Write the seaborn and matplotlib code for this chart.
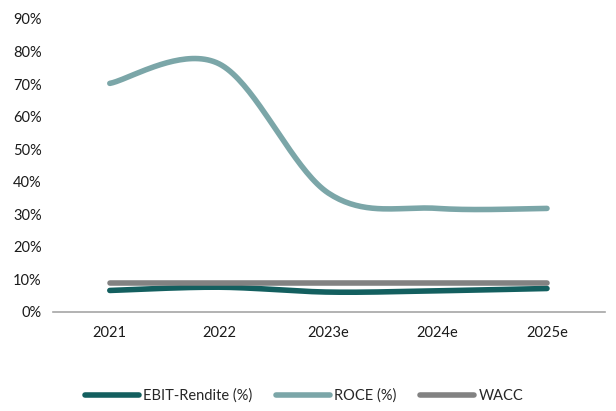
import numpy as np
import pandas as pd
import matplotlib
matplotlib.use("Agg")
import matplotlib.pyplot as plt
import seaborn as sns
from matplotlib.ticker import PercentFormatter

years = ["2021", "2022", "2023e", "2024e", "2025e"]
ebit_margin = [0.066, 0.076, 0.061, 0.065, 0.072]
roce = [0.702, 0.762, 0.365, 0.318, 0.318]
wacc = [0.088, 0.088, 0.088, 0.088, 0.088]

series_names = ["EBIT-Rendite (%)", "ROCE (%)", "WACC"]
series_values = [ebit_margin, roce, wacc]
colors = ["#135f5f", "#7ba6a8", "#828282"]


def smooth(xs, ys, steps=40):
    """Cubic Bezier smoothing through every point (Catmull-Rom style)."""
    xs = np.asarray(xs, float)
    ys = np.asarray(ys, float)
    pts = np.column_stack([xs, ys])
    ext = np.vstack([pts[0], pts, pts[-1]])
    out = []
    for i in range(len(pts) - 1):
        p0, p3 = ext[i + 1], ext[i + 2]
        c1 = p0 + (ext[i + 2] - ext[i]) / 6.0
        c2 = p3 - (ext[i + 3] - ext[i + 1]) / 6.0
        t = np.linspace(0, 1, steps, endpoint=(i == len(pts) - 2))[:, None]
        seg = ((1 - t) ** 3) * p0 + 3 * ((1 - t) ** 2) * t * c1 \
            + 3 * (1 - t) * t ** 2 * c2 + t ** 3 * p3
        out.append(seg)
    out = np.vstack(out)
    return out[:, 0], out[:, 1]


frames = []
for name, vals in zip(series_names, series_values):
    sx, sy = smooth(range(len(years)), vals)
    frames.append(pd.DataFrame({"x": sx, "value": sy, "series": name}))
df = pd.concat(frames, ignore_index=True)

sns.set_theme(style="white")
plt.rcParams["font.family"] = ["Lato", "DejaVu Sans"]

fig = plt.figure(figsize=(6.16, 4.11), dpi=100)
ax = fig.add_axes([0.086, 0.241, 0.896, 0.713])

sns.lineplot(data=df, x="x", y="value", hue="series", hue_order=series_names,
             palette=colors, linewidth=4.0, sort=False, estimator=None,
             ax=ax, legend=True)
for line in ax.get_lines():
    line.set_solid_capstyle("round")

ax.set_xlim(-0.52, 4.53)
ax.set_ylim(0, 0.9)
ax.set_yticks(np.arange(0, 0.91, 0.1))
ax.yaxis.set_major_formatter(PercentFormatter(1.0, decimals=0))
ax.set_xticks(range(len(years)))
ax.set_xticklabels(years)
ax.set_xlabel("")
ax.set_ylabel("")
ax.tick_params(axis="both", length=0, labelsize=10.5, colors="#1a1a1a")
ax.tick_params(axis="x", pad=10)
ax.tick_params(axis="y", pad=8)
for side in ["left", "right", "top"]:
    ax.spines[side].set_visible(False)
ax.spines["bottom"].set_color("#a6a6a6")
ax.spines["bottom"].set_linewidth(1.2)
ax.grid(False)

handles, labels = ax.get_legend_handles_labels()
for h in handles:
    h.set_linewidth(4.0)
    h.set_solid_capstyle("round")
ax.legend(handles, labels, loc="center", bbox_to_anchor=(0.455, -0.285),
          ncol=3, frameon=False, fontsize=10.5, handlelength=3.7,
          columnspacing=1.6, handletextpad=0.3)

fig.savefig("out.png", dpi=100)
